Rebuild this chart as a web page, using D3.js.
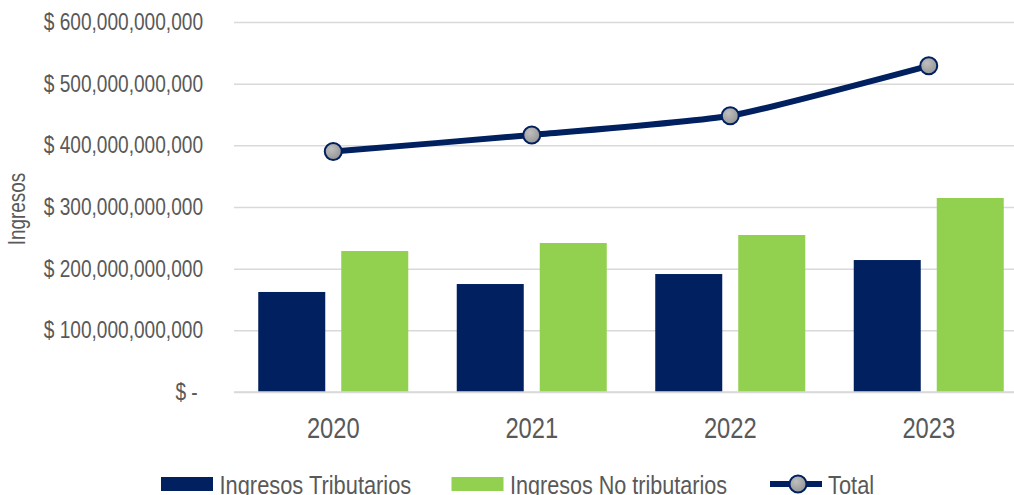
<!DOCTYPE html>
<html>
<head>
<meta charset="utf-8">
<script src="https://cdn.jsdelivr.net/npm/d3@7"></script>
<style>
  html, body { margin: 0; padding: 0; background: #ffffff; }
  svg { display: block; }
  text { font-family: "Liberation Sans Narrow", "Arial Narrow", "Liberation Sans", Arial, sans-serif; fill: #595959; }
</style>
</head>
<body>
<svg id="chart" width="1014" height="495"></svg>
<script>
// ---- Data ----
const years = ["2020", "2021", "2022", "2023"];
const tributarios = [162.2e9, 175.1e9, 191.3e9, 214.0e9];
const noTributarios = [228.6e9, 241.6e9, 254.6e9, 314.6e9];
const total = [390.0e9, 416.7e9, 448.0e9, 529.0e9];
const yTicks = [0, 100e9, 200e9, 300e9, 400e9, 500e9, 600e9];
const seriesNames = ["Ingresos Tributarios", "Ingresos No tributarios", "Total"];
const yTitle = "Ingresos";

// ---- Styles ----
const navy = "#002060";
const green = "#92D050";
const gridColor = "#D9D9D9";

const svg = d3.select("#chart");
const W = 1014, H = 495;
const plot = { left: 234, right: 1028, top: 22, bottom: 392 };

// condense text horizontally (narrow font look)
function squeeze(sel, factor) {
  sel.each(function () {
    const len = this.getComputedTextLength();
    d3.select(this).attr("textLength", len * factor).attr("lengthAdjust", "spacingAndGlyphs");
  });
}

const y = d3.scaleLinear().domain([0, 600e9]).range([plot.bottom, plot.top]);
const x0 = d3.scaleBand().domain(years).range([plot.left, plot.right])
  .paddingInner(0.2443).paddingOuter(0.12215);
const x1 = d3.scaleBand().domain(["trib", "notrib"]).range([0, x0.bandwidth()])
  .paddingInner(0.1928).paddingOuter(0);

const defs = svg.append("defs");
const grad = defs.append("radialGradient").attr("id", "markerGrad")
  .attr("cx", "40%").attr("cy", "35%").attr("r", "65%");
grad.append("stop").attr("offset", "0%").attr("stop-color", "#BFBFBF");
grad.append("stop").attr("offset", "100%").attr("stop-color", "#969696");

// ---- Y axis with gridlines ----
const fmt = d3.format(",");
const yAxis = d3.axisLeft(y).tickValues(yTicks)
  .tickSize(-(W - plot.left))
  .tickPadding(31)
  .tickFormat(d => d === 0 ? "$ -\u00a0" : "$ " + fmt(d));
const gy = svg.append("g").attr("transform", `translate(${plot.left},0)`).call(yAxis);
gy.select(".domain").remove();
gy.selectAll(".tick line").attr("stroke", gridColor).attr("stroke-width", 1.5);
gy.selectAll(".tick text").attr("font-size", 23).attr("fill", "#595959")
  .style("white-space", "pre").call(squeeze, 0.83);

// ---- Bars ----
const groups = svg.append("g").selectAll("g").data(years).join("g")
  .attr("transform", d => `translate(${x0(d)},0)`);
groups.append("rect")
  .attr("x", x1("trib")).attr("width", x1.bandwidth())
  .attr("y", (d, i) => y(tributarios[i]))
  .attr("height", (d, i) => y(0) - y(tributarios[i]))
  .attr("fill", navy);
groups.append("rect")
  .attr("x", x1("notrib")).attr("width", x1.bandwidth())
  .attr("y", (d, i) => y(noTributarios[i]))
  .attr("height", (d, i) => y(0) - y(noTributarios[i]))
  .attr("fill", green);

// ---- X axis ----
const xAxis = d3.axisBottom(x0).tickSize(0).tickPadding(25);
const gx = svg.append("g").attr("transform", `translate(0,${plot.bottom})`).call(xAxis);
gx.select(".domain").attr("stroke", gridColor).attr("stroke-width", 1.5)
  .attr("d", `M${plot.left},0H${W}`);
gx.selectAll(".tick text").attr("font-size", 30).attr("fill", "#595959").call(squeeze, 0.79);

// ---- Total line ----
const cx = d => x0(d) + x0.bandwidth() / 2;
const lineGen = d3.line()
  .x((d, i) => cx(years[i]))
  .y(d => y(d))
  .curve(d3.curveCardinal.tension(0.5));
svg.append("path").datum(total)
  .attr("d", lineGen)
  .attr("fill", "none").attr("stroke", navy).attr("stroke-width", 6)
  .attr("stroke-linejoin", "round");
svg.append("g").selectAll("circle").data(total).join("circle")
  .attr("cx", (d, i) => cx(years[i]))
  .attr("cy", d => y(d))
  .attr("r", 8.5)
  .attr("fill", "url(#markerGrad)")
  .attr("stroke", navy).attr("stroke-width", 2);

// ---- Y title ----
svg.append("text")
  .attr("transform", `translate(25,209) rotate(-90)`)
  .attr("text-anchor", "middle")
  .attr("font-size", 23)
  .text(yTitle).call(squeeze, 0.82);

// ---- Legend ----
const legend = svg.append("g");
const lg1 = legend.append("g").attr("transform", "translate(161,0)");
lg1.append("rect").attr("x", 0).attr("y", 477).attr("width", 52).attr("height", 14).attr("fill", navy);
lg1.append("text").attr("x", 58.5).attr("y", 494).attr("font-size", 26).text(seriesNames[0]).call(squeeze, 0.84);

const lg2 = legend.append("g").attr("transform", "translate(451.5,0)");
lg2.append("rect").attr("x", 0).attr("y", 477).attr("width", 52).attr("height", 14).attr("fill", green);
lg2.append("text").attr("x", 58.5).attr("y", 494).attr("font-size", 26).text(seriesNames[1]).call(squeeze, 0.83);

const lg3 = legend.append("g").attr("transform", "translate(770,0)");
lg3.append("line").attr("x1", 0).attr("x2", 52).attr("y1", 484).attr("y2", 484)
  .attr("stroke", navy).attr("stroke-width", 6);
lg3.append("circle").attr("cx", 28).attr("cy", 484).attr("r", 8.5)
  .attr("fill", "url(#markerGrad)").attr("stroke", navy).attr("stroke-width", 2);
lg3.append("text").attr("x", 58).attr("y", 494).attr("font-size", 26).text(seriesNames[2]).call(squeeze, 0.84);
</script>
</body>
</html>
